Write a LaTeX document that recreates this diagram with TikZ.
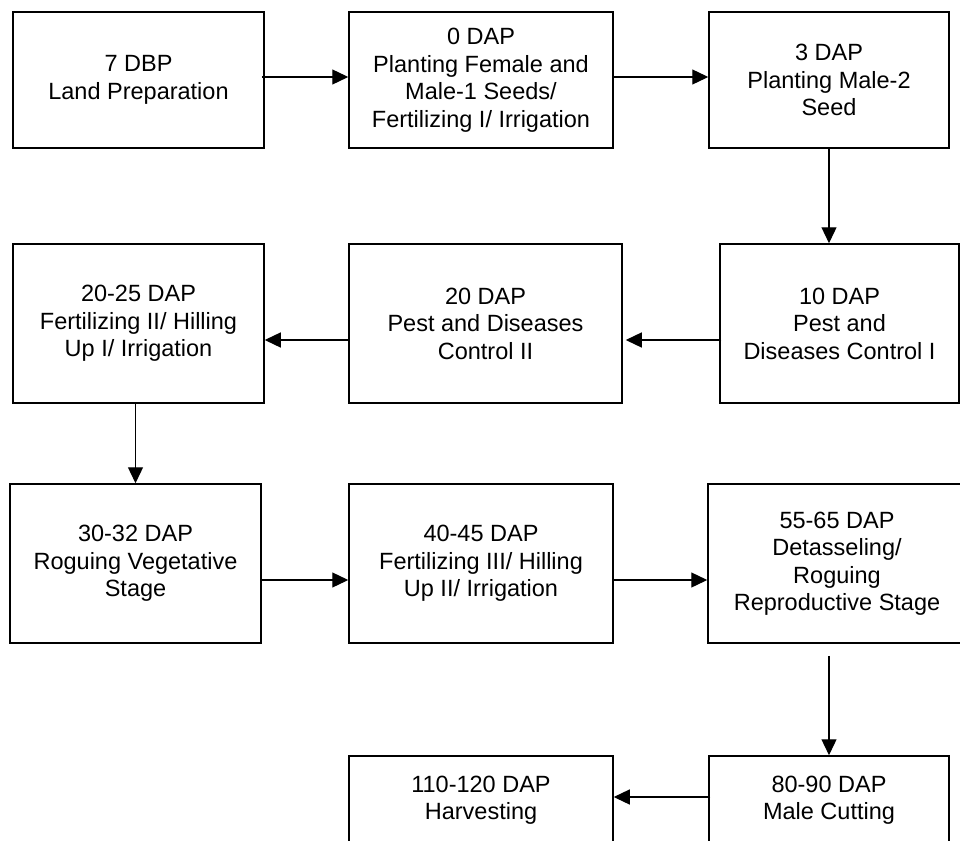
\documentclass[tikz,border=0pt]{standalone}
\usepackage{fontspec}
\setmainfont{Liberation Sans}
\usetikzlibrary{arrows.meta,calc,positioning}
\tikzset{
  stage/.style={
    rectangle,
    draw=black,
    line width=1.5pt,
    fill=white,
    align=center,
    inner sep=0pt,
    font=\fontsize{23.5}{27.5}\selectfont
  },
  flow/.style={line width=1.3pt, -{Triangle[length=16pt,width=15pt]}}
}
\begin{document}
\begin{tikzpicture}[x=1pt,y=-1pt]
\useasboundingbox (0,0) rectangle (960,840);

% row 1
\node[stage, minimum width=251pt, minimum height=136pt] (land) at (138.5,80) {7 DBP\\Land Preparation};
\node[stage, minimum width=264pt, minimum height=136pt] (plantf) at (481,80) {0 DAP\\Planting Female and\\Male-1 Seeds/\\Fertilizing I/ Irrigation};
\node[stage, minimum width=240pt, minimum height=136pt] (plantm) at (829,80) {3 DAP\\Planting Male-2\\Seed};

% row 2
\node[stage, minimum width=239pt, minimum height=159pt] (pestone) at (839.5,323.5) {10 DAP\\Pest and\\Diseases Control I};
\node[stage, minimum width=273pt, minimum height=159pt] (pesttwo) at (485.5,323.5) {20 DAP\\Pest and Diseases\\Control II};
\node[stage, minimum width=251pt, minimum height=159pt] (hillone) at (138.5,323.5) {20-25 DAP\\Fertilizing II/ Hilling\\Up I/ Irrigation};

% row 3
\node[stage, minimum width=251pt, minimum height=159pt] (rogveg) at (135.5,563.5) {30-32 DAP\\Roguing Vegetative\\Stage};
\node[stage, minimum width=264pt, minimum height=159pt] (hilltwo) at (481,563.5) {40-45 DAP\\Fertilizing III/ Hilling\\Up II/ Irrigation};
\node[stage, minimum width=258pt, minimum height=159pt] (detassel) at (837,563.5) {55-65 DAP\\Detasseling/\\Roguing\\Reproductive Stage};

% row 4
\node[stage, minimum width=240pt, minimum height=88pt] (malecut) at (829,800) {80-90 DAP\\Male Cutting};
\node[stage, minimum width=264pt, minimum height=88pt] (harvest) at (481,800) {110-120 DAP\\Harvesting};

\draw[flow] ($(land.east)+(-3,-3)$) -- ($(plantf.west)+(0,-3)$);
\draw[flow] ($(plantf.east)+(0,-3)$) -- ($(plantm.west)+(0,-3)$);
\draw[flow] (plantm.south) -- (plantm.south |- pestone.north);
\draw[flow] ($(pestone.west)+(2,16.5)$) -- ($(pesttwo.east)+(3,16.5)$);
\draw[flow] ($(pesttwo.west)+(0,16.5)$) -- ($(hillone.east)+(0,16.5)$);
\draw[flow] (hillone.south -| rogveg.north) -- (rogveg.north);
\draw[flow] ($(rogveg.east)+(0,16.5)$) -- ($(hilltwo.west)+(0,16.5)$);
\draw[flow] ($(hilltwo.east)+(0,16.5)$) -- ($(detassel.west)+(0,16.5)$);
\draw[flow] ($(detassel.south -| malecut.north)+(0,12)$) -- (malecut.north);
\draw[flow] ($(malecut.west)+(2,-3)$) -- ($(harvest.east)+(0,-3)$);
\end{tikzpicture}
\end{document}
